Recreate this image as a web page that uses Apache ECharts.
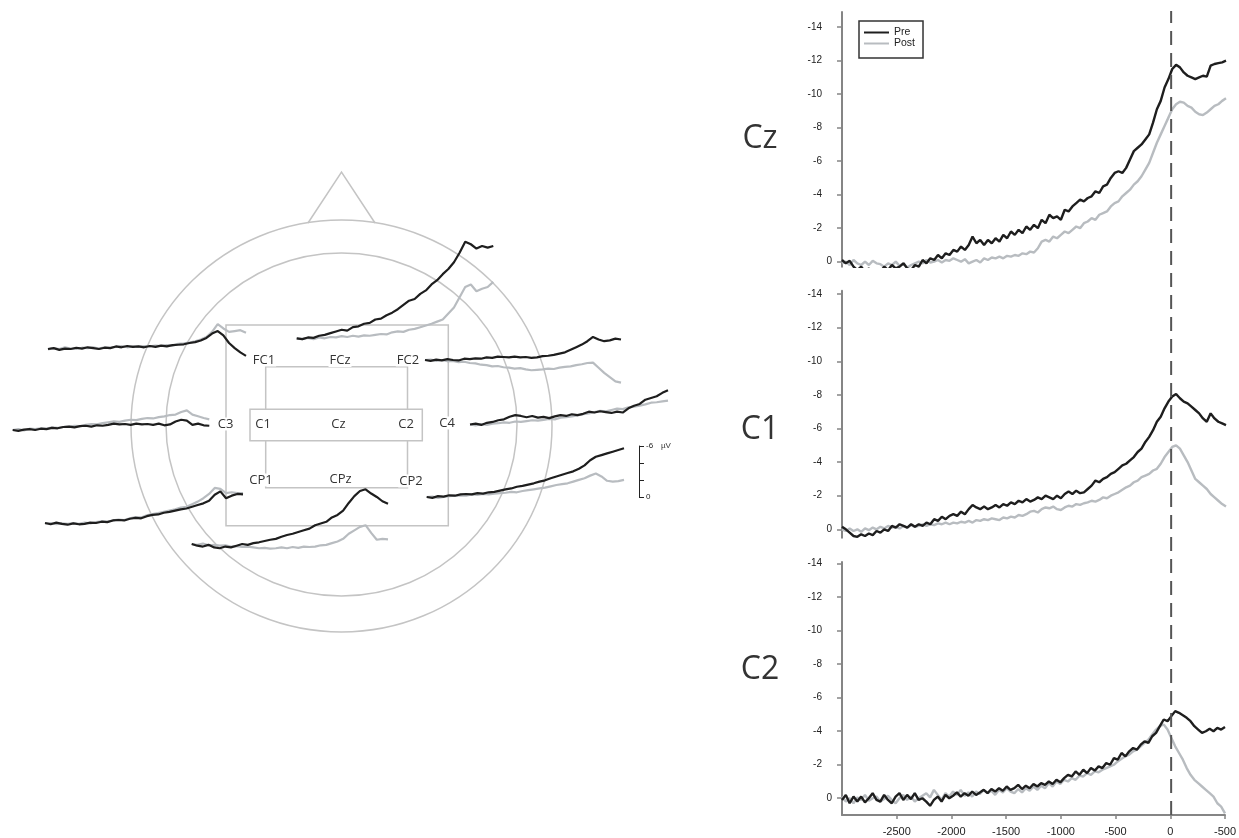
<!DOCTYPE html>
<html><head><meta charset="utf-8">
<script src="https://cdn.jsdelivr.net/npm/echarts@6/dist/echarts.min.js"></script>
<style>html,body{margin:0;padding:0;background:#fff}#main{width:1239px;height:838px}</style>
</head><body><div id="main"></div>
<script>
// ---------------- DATA ----------------
const seriesNames = ['Pre', 'Post'];
const xTickValues = [-2500, -2000, -1500, -1000, -500, 0, 500];
const xTickLabels = ['-2500', '-2000', '-1500', '-1000', '-500', '0', '-500'];
const yTickValues = [-14, -12, -10, -8, -6, -4, -2, 0];
const yTickLabels = ['-14', '-12', '-10', '-8', '-6', '-4', '-2', '0'];
const scaleTickValues = [-6, 0];
const scaleTickLabels = ['-6', '0'];
const scaleUnit = 'µV';
const panelNames = ['Cz', 'C1', 'C2'];
const rightStartMs = -3000, rightStepMs = 35;
const leftStartMs = -3000, leftStepMs = 100;

const czPre = [-0.1,0.1,-0.05,0.3,0.5,0.3,0.6,0.4,0.7,0.5,
0.6,0.3,0.5,0.2,0.4,0.3,0.1,0.4,0.5,0.2,
0.3,-0.1,0.1,-0.2,-0.1,-0.4,-0.2,-0.5,-0.4,-0.7,
-0.6,-0.9,-0.7,-1.0,-1.5,-1.1,-1.3,-1.0,-1.3,-1.1,
-1.4,-1.2,-1.6,-1.4,-1.8,-1.6,-1.9,-1.7,-2.1,-1.9,
-2.2,-2.0,-2.5,-2.3,-2.8,-2.6,-2.7,-2.5,-3.1,-3.0,
-3.3,-3.5,-3.7,-3.6,-3.8,-3.9,-4.2,-4.1,-4.5,-4.6,
-5.0,-5.3,-5.4,-5.3,-5.6,-6.1,-6.6,-6.8,-7.0,-7.3,
-7.6,-8.3,-9.1,-9.6,-10.4,-10.9,-11.5,-11.75,-11.6,-11.3,
-11.1,-11.0,-10.9,-11.0,-11.1,-11.05,-11.7,-11.8,-11.85,-11.9,
-12.0];
const czPost = [0.1,0.0,0.2,-0.1,0.1,0.2,0.0,0.2,-0.05,0.1,
0.15,0.3,0.1,0.2,0.0,0.25,0.1,0.35,0.2,0.1,
0.0,0.1,-0.1,0.05,0.0,-0.1,0.05,-0.1,-0.05,-0.2,
-0.1,0.0,-0.15,0.1,0.0,-0.1,0.05,-0.2,-0.1,-0.25,
-0.2,-0.3,-0.2,-0.35,-0.3,-0.4,-0.35,-0.5,-0.45,-0.6,
-0.55,-0.8,-1.2,-1.3,-1.2,-1.5,-1.4,-1.6,-1.8,-1.7,
-1.9,-2.1,-2.0,-2.3,-2.4,-2.6,-2.5,-2.8,-2.9,-3.0,
-3.3,-3.5,-3.6,-3.9,-4.1,-4.3,-4.6,-4.8,-5.1,-5.5,
-5.9,-6.5,-7.1,-7.6,-8.1,-8.6,-9.1,-9.4,-9.55,-9.5,
-9.3,-9.2,-8.95,-8.8,-8.75,-8.9,-9.1,-9.3,-9.4,-9.6,
-9.75];
const c1Pre = [-0.15,0.0,0.2,0.4,0.45,0.3,0.4,0.25,0.35,0.1,
0.2,0.0,0.1,-0.2,-0.1,-0.3,-0.2,-0.1,-0.3,-0.15,
-0.3,-0.2,-0.4,-0.3,-0.6,-0.5,-0.75,-0.6,-0.8,-0.9,
-0.8,-1.05,-0.9,-1.2,-1.45,-1.3,-1.2,-1.35,-1.2,-1.3,
-1.45,-1.3,-1.5,-1.4,-1.6,-1.5,-1.7,-1.6,-1.8,-1.65,
-1.75,-1.9,-1.8,-2.0,-1.9,-1.8,-2.0,-1.85,-2.1,-2.25,
-2.1,-2.3,-2.15,-2.2,-2.4,-2.6,-2.9,-2.8,-3.0,-3.1,
-3.3,-3.4,-3.6,-3.8,-3.9,-4.1,-4.3,-4.6,-4.8,-5.2,
-5.5,-5.9,-6.4,-6.7,-7.2,-7.6,-7.9,-8.05,-7.8,-7.6,
-7.5,-7.3,-7.1,-6.9,-6.6,-6.4,-6.9,-6.6,-6.4,-6.3,
-6.2];
const c1Post = [0.0,0.1,-0.05,0.1,0.0,0.15,-0.05,0.05,-0.1,0.0,
-0.15,-0.05,-0.2,-0.1,-0.15,-0.05,-0.2,-0.1,-0.25,-0.15,
-0.2,-0.3,-0.2,-0.3,-0.25,-0.35,-0.3,-0.4,-0.3,-0.4,
-0.35,-0.45,-0.4,-0.5,-0.4,-0.55,-0.5,-0.6,-0.55,-0.65,
-0.6,-0.55,-0.7,-0.65,-0.75,-0.7,-0.85,-0.8,-0.9,-1.05,
-1.1,-1.0,-1.2,-1.3,-1.25,-1.35,-1.2,-1.15,-1.3,-1.4,
-1.35,-1.5,-1.45,-1.55,-1.6,-1.7,-1.65,-1.75,-1.9,-1.85,
-2.0,-2.1,-2.2,-2.35,-2.5,-2.6,-2.8,-2.9,-3.1,-3.2,
-3.3,-3.5,-3.6,-3.9,-4.3,-4.6,-4.9,-5.0,-4.8,-4.4,
-4.0,-3.5,-3.0,-2.8,-2.6,-2.4,-2.1,-1.9,-1.7,-1.5,
-1.35];
const c2Pre = [0.1,-0.2,0.3,-0.1,0.2,-0.1,0.25,0.0,-0.3,0.1,
0.2,-0.2,0.1,0.3,-0.1,-0.3,0.1,-0.2,0.05,-0.3,
0.1,0.0,0.2,0.45,0.1,-0.1,0.2,-0.2,0.0,-0.15,
-0.35,-0.1,-0.3,-0.15,-0.4,-0.2,-0.35,-0.5,-0.3,-0.55,
-0.4,-0.6,-0.45,-0.7,-0.5,-0.6,-0.8,-0.55,-0.75,-0.6,
-0.85,-0.7,-0.9,-0.8,-1.0,-0.85,-1.1,-0.95,-1.2,-1.4,
-1.3,-1.6,-1.4,-1.7,-1.5,-1.8,-1.65,-1.9,-1.8,-2.1,
-2.0,-2.4,-2.3,-2.7,-2.5,-2.8,-3.0,-2.9,-3.2,-3.4,
-3.3,-3.7,-3.9,-4.3,-4.7,-4.6,-4.9,-5.2,-5.1,-4.95,
-4.8,-4.6,-4.3,-4.1,-3.9,-4.0,-4.15,-4.0,-4.2,-4.1,
-4.25];
const c2Post = [-0.1,0.2,0.0,0.3,-0.05,0.1,-0.2,0.15,0.0,-0.1,
0.2,0.05,-0.15,0.1,0.3,0.0,-0.2,0.1,-0.1,0.2,
0.0,-0.15,-0.3,-0.05,-0.5,-0.2,0.1,-0.3,-0.1,-0.4,
-0.2,-0.5,-0.15,-0.35,-0.1,-0.4,-0.25,-0.5,-0.3,-0.45,
-0.2,-0.5,-0.35,-0.6,-0.4,-0.3,-0.55,-0.35,-0.6,-0.45,
-0.7,-0.5,-0.75,-0.6,-0.9,-0.7,-1.0,-0.85,-1.1,-1.0,
-1.2,-1.1,-1.35,-1.3,-1.5,-1.4,-1.6,-1.55,-1.7,-1.8,
-1.9,-2.0,-2.2,-2.35,-2.5,-2.6,-2.8,-2.9,-3.1,-3.3,
-3.5,-3.8,-4.1,-4.3,-4.4,-4.1,-3.6,-3.1,-2.7,-2.3,
-1.8,-1.4,-1.1,-0.9,-0.7,-0.5,-0.3,-0.1,0.3,0.5,
0.9];

// small topographic traces (36 samples each, -3000..500 ms)
const traceElectrodes = ['FC1', 'FCz', 'FC2', 'C3', 'C4', 'CP1', 'CPz', 'CP2'];
const fc1Pre = [0.0,-0.1,0.1,-0.05,0.0,-0.15,-0.05,-0.2,-0.1,0.0,-0.15,-0.1,-0.3,-0.2,-0.35,-0.25,-0.3,-0.2,-0.35,-0.25,-0.4,-0.3,-0.45,-0.5,-0.55,-0.7,-0.8,-1.0,-1.3,-1.8,-2.1,-1.6,-0.7,-0.1,0.4,0.8];
const fc1Post = [0.05,-0.1,0.0,-0.2,-0.05,0.0,-0.15,-0.1,-0.2,-0.05,-0.2,-0.15,-0.25,-0.35,-0.2,-0.3,-0.25,-0.35,-0.3,-0.4,-0.35,-0.45,-0.4,-0.6,-0.65,-0.75,-0.9,-1.1,-1.4,-2.0,-2.9,-2.4,-2.0,-2.1,-2.2,-1.9];
const fczPre = [0.0,0.1,-0.1,-0.05,-0.3,-0.4,-0.6,-0.8,-1.0,-0.9,-1.3,-1.4,-1.7,-1.8,-2.2,-2.3,-2.7,-3.0,-3.4,-3.9,-4.4,-4.6,-5.2,-5.6,-6.3,-6.8,-7.5,-8.1,-8.9,-10.0,-11.3,-11.0,-10.5,-10.8,-10.6,-10.8];
const fczPost = [0.0,0.1,-0.05,0.1,-0.1,0.0,-0.15,-0.1,-0.25,-0.15,-0.3,-0.2,-0.35,-0.3,-0.4,-0.5,-0.45,-0.7,-0.8,-0.75,-1.0,-1.1,-1.3,-1.5,-1.7,-1.95,-2.2,-2.9,-3.6,-4.8,-6.0,-6.3,-5.5,-5.8,-6.0,-6.6];
const fc2Pre = [0.0,0.1,-0.05,0.05,-0.1,0.0,0.05,-0.15,-0.1,-0.2,-0.15,-0.3,-0.25,-0.4,-0.35,-0.3,-0.4,-0.3,-0.35,-0.25,-0.3,-0.45,-0.5,-0.6,-0.75,-0.9,-1.2,-1.5,-1.8,-2.2,-2.7,-2.4,-2.2,-2.3,-2.5,-2.4];
const fc2Post = [0.0,-0.05,0.1,0.0,0.15,0.1,0.25,0.2,0.35,0.4,0.55,0.6,0.75,0.7,0.85,0.9,1.0,0.95,1.1,1.2,1.15,1.1,1.0,1.05,0.9,0.8,0.75,0.6,0.5,0.35,0.3,0.9,1.5,2.0,2.5,2.65];
const c3Pre = [0.0,0.1,-0.05,-0.1,0.0,-0.15,-0.1,-0.25,-0.2,-0.35,-0.4,-0.3,-0.45,-0.5,-0.4,-0.55,-0.5,-0.6,-0.75,-0.65,-0.7,-0.6,-0.75,-0.65,-0.7,-0.6,-0.75,-0.55,-0.65,-1.0,-1.2,-1.1,-0.6,-0.75,-0.55,-0.5];
const c3Post = [0.0,-0.1,0.05,-0.15,-0.1,-0.2,-0.15,-0.3,-0.25,-0.35,-0.4,-0.5,-0.45,-0.6,-0.7,-0.65,-0.8,-0.9,-1.0,-0.95,-1.1,-1.2,-1.15,-1.3,-1.4,-1.35,-1.5,-1.6,-1.75,-1.8,-2.1,-2.3,-1.8,-1.6,-1.4,-1.25];
const c4Pre = [0.0,-0.1,0.05,-0.2,-0.3,-0.5,-0.6,-0.9,-1.1,-1.0,-0.85,-1.0,-0.8,-0.9,-0.75,-0.95,-1.1,-1.0,-1.2,-1.1,-1.25,-1.5,-1.4,-1.55,-1.45,-1.35,-1.5,-1.4,-1.9,-2.2,-2.4,-2.9,-3.1,-3.3,-3.7,-4.0];
const c4Post = [0.0,0.1,-0.05,0.05,-0.1,-0.15,-0.25,-0.2,-0.35,-0.3,-0.4,-0.5,-0.45,-0.55,-0.65,-0.6,-0.8,-0.85,-0.95,-1.05,-1.2,-1.3,-1.45,-1.6,-1.55,-1.7,-1.85,-1.8,-2.0,-2.1,-2.2,-2.35,-2.55,-2.6,-2.7,-2.8];
const cp1Pre = [0.0,0.15,-0.05,0.1,0.2,0.05,0.15,0.1,-0.05,0.0,-0.15,-0.1,-0.3,-0.35,-0.3,-0.5,-0.6,-0.55,-0.8,-0.95,-1.0,-1.2,-1.3,-1.45,-1.6,-1.7,-1.9,-2.1,-2.3,-2.6,-3.3,-3.7,-2.9,-3.2,-3.4,-3.35];
const cp1Post = [0.05,0.0,0.15,0.05,0.1,0.0,0.1,-0.05,0.05,-0.1,-0.2,-0.15,-0.3,-0.4,-0.35,-0.55,-0.7,-0.65,-0.9,-1.05,-1.15,-1.3,-1.45,-1.6,-1.8,-1.9,-2.2,-2.5,-2.9,-3.4,-4.1,-4.0,-3.5,-3.6,-3.5,-3.5];
const cpzPre = [0.0,0.2,0.3,0.1,0.4,0.5,0.3,0.4,0.2,0.0,0.1,-0.1,-0.2,-0.35,-0.5,-0.6,-0.85,-1.05,-1.2,-1.4,-1.6,-1.8,-2.2,-2.4,-2.6,-3.1,-3.4,-3.9,-4.8,-5.6,-6.2,-6.4,-5.9,-5.5,-5.0,-4.7];
const cpzPost = [0.0,0.1,-0.05,0.15,0.1,0.2,0.15,0.3,0.25,0.35,0.3,0.4,0.5,0.45,0.55,0.5,0.4,0.5,0.35,0.45,0.3,0.35,0.3,0.15,0.1,-0.1,-0.3,-0.6,-1.2,-1.6,-2.0,-2.2,-1.3,-0.5,-0.6,-0.55];
const cp2Pre = [0.0,0.1,-0.1,-0.05,-0.2,-0.15,-0.3,-0.35,-0.3,-0.45,-0.4,-0.55,-0.6,-0.75,-0.9,-1.0,-1.2,-1.3,-1.45,-1.6,-1.8,-1.95,-2.2,-2.4,-2.6,-2.8,-3.0,-3.3,-3.7,-4.3,-4.7,-4.9,-5.1,-5.3,-5.5,-5.7];
const cp2Post = [0.0,-0.05,0.1,0.0,-0.1,-0.15,-0.2,-0.15,-0.3,-0.25,-0.35,-0.3,-0.4,-0.45,-0.5,-0.6,-0.55,-0.7,-0.8,-0.9,-1.0,-1.1,-1.25,-1.4,-1.5,-1.6,-1.8,-2.0,-2.2,-2.5,-2.75,-2.4,-1.9,-1.8,-1.85,-2.0];

const electrodeLabels = ['FC1', 'FCz', 'FC2', 'C3', 'C1', 'Cz', 'C2', 'C4', 'CP1', 'CPz', 'CP2'];

// ---------------- LAYOUT / STYLE ----------------
const preColor = '#1e1e1e', postColor = '#b8bcc0';
const headStroke = '#c4c4c4';
const axisGray = '#858585';
const tickFont = "'Liberation Sans', Arial, sans-serif";
const labelFont = "'Open Sans', 'Noto Sans', sans-serif";

const rightLayout = [
  {top: 12.1, height: 254.6, min: -14.9, max: 0.3, labelY: 139, showX: false},
  {top: 290.7, height: 247, min: -14.2, max: 0.5, labelY: 430, showX: false},
  {top: 562, height: 253, min: -14.1, max: 1.0, labelY: 670, showX: true}
];
const rightData = [[czPre, czPost], [c1Pre, c1Post], [c2Pre, c2Post]];
const rightLeft = 842, rightWidth = 384;

const pxPerUv = 8.55, traceMin = -12, traceMax = 3;
const traceLayout = [
  {left: 48, width: 198, y0: 349},
  {left: 296.7, width: 196.6, y0: 338.3},
  {left: 425, width: 196, y0: 360},
  {left: 12.7, width: 196.6, y0: 430},
  {left: 470, width: 198, y0: 424.5},
  {left: 45, width: 198, y0: 523},
  {left: 191.7, width: 196.3, y0: 544},
  {left: 426.7, width: 197.3, y0: 497}
];
const traceData = [[fc1Pre, fc1Post], [fczPre, fczPost], [fc2Pre, fc2Post], [c3Pre, c3Post],
  [c4Pre, c4Post], [cp1Pre, cp1Post], [cpzPre, cpzPost], [cp2Pre, cp2Post]];

const labelPos = [[264, 360], [340, 360.5], [408, 360], [225.5, 424], [263, 424], [338.5, 424],
  [406, 424], [447, 423], [261, 480], [340.5, 479], [411, 481]];

function pairs(vals, start, step) { return vals.map((v, i) => [start + i * step, v]); }
function lookup(values, labels) { return v => { const k = values.indexOf(v); return k >= 0 ? labels[k] : ''; }; }
const yLabelText = lookup(yTickValues, yTickLabels);
const tickTextStyle = {fontSize: 10, color: '#222', fontFamily: tickFont};

const grids = [], xAxes = [], yAxes = [], series = [];

// right panels
rightLayout.forEach((L, p) => {
  const g = grids.length;
  grids.push({left: rightLeft, top: L.top, width: rightWidth, height: L.height});
  xAxes.push(L.showX ? {
    gridIndex: g, type: 'value', min: -3000, max: 500, position: 'bottom',
    axisLine: {show: true, onZero: false, lineStyle: {color: axisGray, width: 2}},
    axisTick: {show: true, customValues: xTickValues, length: 4, lineStyle: {color: axisGray, width: 1.5}},
    axisLabel: {customValues: xTickValues, formatter: lookup(xTickValues, xTickLabels), fontSize: 11, color: '#222', margin: 11, fontFamily: tickFont},
    splitLine: {show: false}
  } : {gridIndex: g, type: 'value', min: -3000, max: 500, show: false});
  yAxes.push({
    gridIndex: g, type: 'value', inverse: true, min: L.min, max: L.max,
    axisLine: {show: true, onZero: false, lineStyle: {color: axisGray, width: 2}},
    axisTick: {show: true, customValues: yTickValues, length: 5, lineStyle: {color: axisGray, width: 1.5}},
    axisLabel: {customValues: yTickValues, margin: 10,
      formatter: v => (v < 0 ? '{n|' : '{z|') + yLabelText(v) + '}',
      rich: {n: Object.assign({padding: [0, 10, 0, 0]}, tickTextStyle), z: Object.assign({}, tickTextStyle)}},
    splitLine: {show: false}
  });
  const [pre, post] = rightData[p];
  series.push({type: 'line', name: 'Post', xAxisIndex: g, yAxisIndex: g, data: pairs(post, rightStartMs, rightStepMs),
    symbol: 'none', lineStyle: {color: postColor, width: 2.4}, itemStyle: {color: postColor}, silent: true, z: 3});
  series.push({type: 'line', name: 'Pre', xAxisIndex: g, yAxisIndex: g, data: pairs(pre, rightStartMs, rightStepMs),
    symbol: 'none', lineStyle: {color: preColor, width: 2.4}, itemStyle: {color: preColor}, silent: true, z: 4});
});

// dashed onset line across all panels
{
  const g = grids.length;
  grids.push({left: rightLeft, top: 11, width: rightWidth, height: 804});
  xAxes.push({gridIndex: g, type: 'value', min: -3000, max: 500, show: false});
  yAxes.push({gridIndex: g, type: 'value', min: 0, max: 1, show: false});
  series.push({type: 'line', name: 'onset', xAxisIndex: g, yAxisIndex: g, data: [[0, 0], [0, 1]],
    symbol: 'none', lineStyle: {color: '#555', width: 2, type: [14, 8]}, silent: true, z: 5});
}

// small traces on head
traceLayout.forEach((T, k) => {
  const g = grids.length;
  grids.push({left: T.left, width: T.width, top: T.y0 + traceMin * pxPerUv, height: (traceMax - traceMin) * pxPerUv});
  xAxes.push({gridIndex: g, type: 'value', min: -3000, max: 500, show: false});
  yAxes.push({gridIndex: g, type: 'value', inverse: true, min: traceMin, max: traceMax, show: false});
  const [pre, post] = traceData[k];
  series.push({type: 'line', name: 'Post', xAxisIndex: g, yAxisIndex: g, data: pairs(post, leftStartMs, leftStepMs),
    symbol: 'none', lineStyle: {color: postColor, width: 2.2}, itemStyle: {color: postColor}, silent: true, z: 3});
  series.push({type: 'line', name: 'Pre', xAxisIndex: g, yAxisIndex: g, data: pairs(pre, leftStartMs, leftStepMs),
    symbol: 'none', lineStyle: {color: preColor, width: 2.2}, itemStyle: {color: preColor}, silent: true, z: 4});
});

// scale bar
{
  const g = grids.length;
  grids.push({left: 639, top: 446, width: 10, height: 51});
  xAxes.push({gridIndex: g, type: 'value', min: 0, max: 1, show: false});
  yAxes.push({gridIndex: g, type: 'value', inverse: true, min: -6, max: 0, position: 'left',
    axisLine: {show: true, onZero: false, lineStyle: {color: '#222', width: 1}},
    axisTick: {show: true, inside: true, length: 5, customValues: [-6, -4, -2, 0], lineStyle: {color: '#222', width: 1}},
    axisLabel: {inside: true, margin: 7, customValues: scaleTickValues, formatter: lookup(scaleTickValues, scaleTickLabels), fontSize: 8, color: '#222', fontFamily: tickFont},
    splitLine: {show: false}});
}

// graphics (head outline, boxes, labels)
const stroke = {fill: 'none', stroke: headStroke, lineWidth: 1.5};
const graphics = [
  {type: 'ellipse', shape: {cx: 341.5, cy: 426, rx: 210.5, ry: 206}, style: stroke},
  {type: 'ellipse', shape: {cx: 341.5, cy: 424.5, rx: 175.5, ry: 171.5}, style: stroke},
  {type: 'polyline', shape: {points: [[308, 223], [341.5, 172], [375, 223]]}, style: stroke},
  {type: 'rect', shape: {x: 226, y: 325, width: 222.3, height: 200.7}, style: stroke},
  {type: 'rect', shape: {x: 265.7, y: 366.7, width: 141.8, height: 121}, style: stroke},
  {type: 'rect', shape: {x: 250, y: 409.3, width: 172.3, height: 31.4}, style: {fill: '#fff', stroke: headStroke, lineWidth: 1.5}}
];
electrodeLabels.forEach((name, i) => {
  graphics.push({type: 'text', x: labelPos[i][0], y: labelPos[i][1],
    style: {text: name, fill: '#333', font: '13px ' + labelFont, align: 'center', verticalAlign: 'middle',
      backgroundColor: '#fff', padding: [0, 1]}});
});
rightLayout.forEach((L, p) => {
  graphics.push({type: 'text', x: 760, y: L.labelY,
    style: {text: panelNames[p], fill: '#333', font: '32px ' + labelFont, align: 'center', verticalAlign: 'middle'}});
});
graphics.push({type: 'text', x: 661, y: 446, style: {text: scaleUnit, fill: '#333', font: '8px ' + tickFont, align: 'left', verticalAlign: 'middle'}});

const chart = echarts.init(document.getElementById('main'));
chart.setOption({
  animation: false,
  backgroundColor: '#fff',
  legend: {
    data: seriesNames, orient: 'vertical', left: 859, top: 21,
    icon: 'rect', itemWidth: 25, itemHeight: 2, itemGap: 0,
    padding: [6, 8, 9, 5], borderColor: '#333', borderWidth: 1.5,
    textStyle: {fontSize: 10.5, color: '#222', fontFamily: tickFont},
    selectedMode: false
  },
  grid: grids, xAxis: xAxes, yAxis: yAxes, series: series,
  graphic: {elements: graphics}
});
</script></body></html>
